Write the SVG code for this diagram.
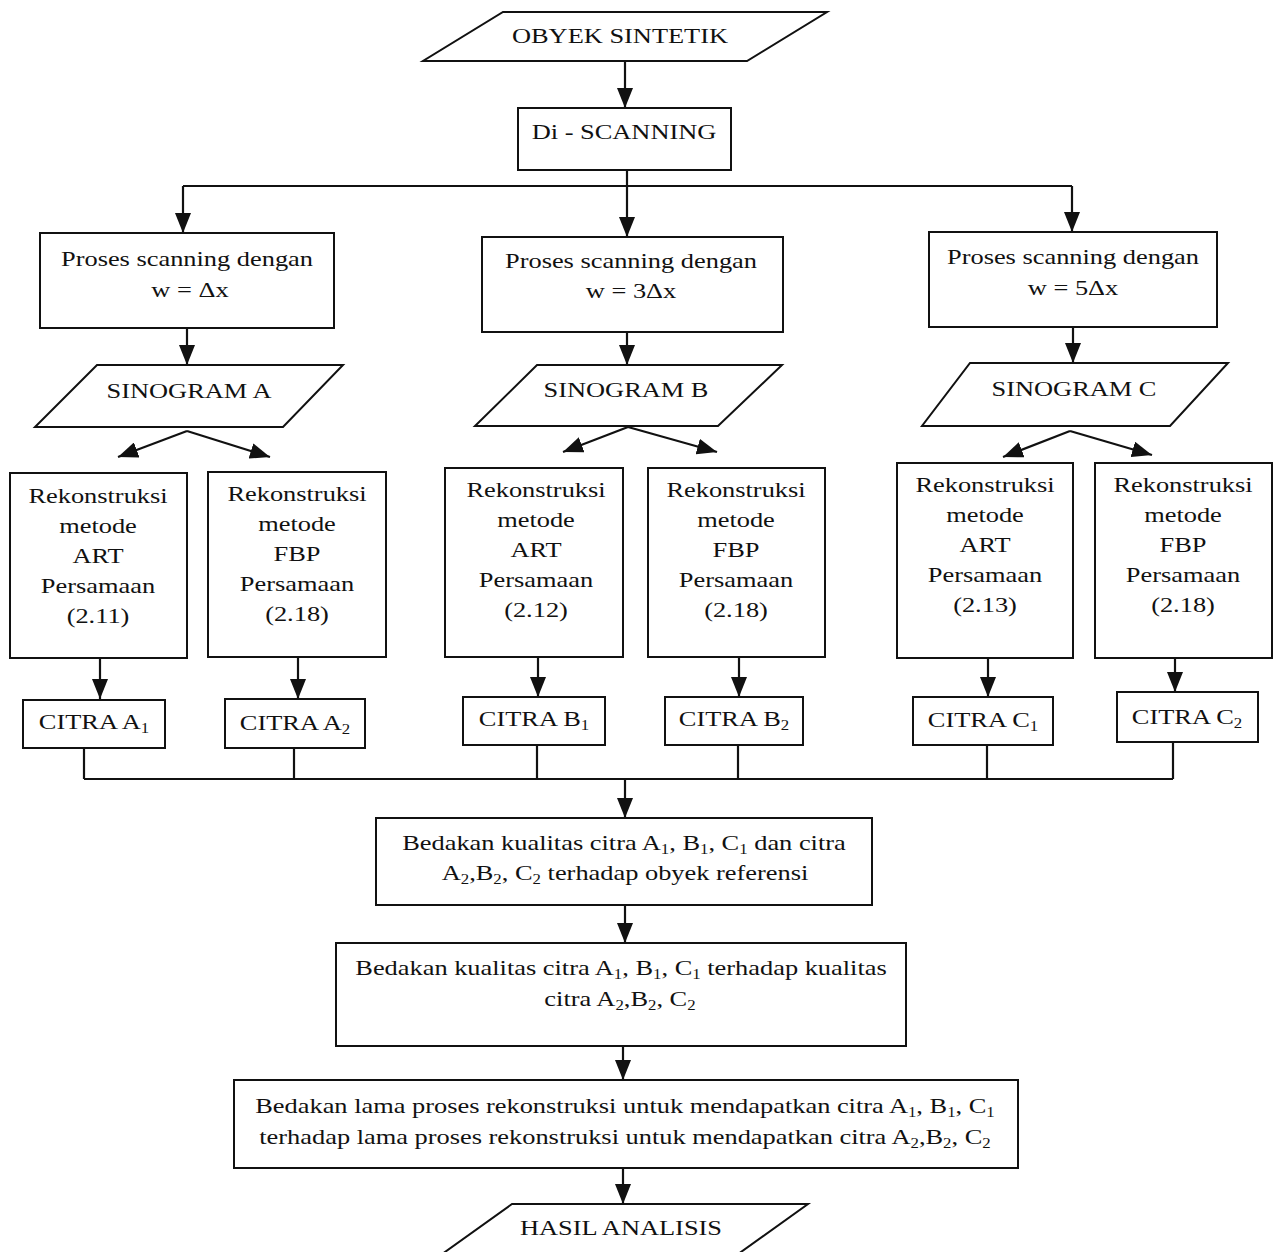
<svg xmlns="http://www.w3.org/2000/svg" width="1274" height="1252" viewBox="0 0 1274 1252">
<defs>
<style>
.t{font-family:"Liberation Serif","Times New Roman",serif;font-size:22px;text-anchor:middle;fill:#111}
.s{font-size:14px}
.b{fill:none;stroke:#111;stroke-width:2}
.c{fill:none;stroke:#111;stroke-width:2.2}
</style>
<marker id="ah" viewBox="0 0 20 16" refX="20" refY="8" markerWidth="20" markerHeight="16" markerUnits="userSpaceOnUse" orient="auto"><path d="M0,0 L20,8 L0,16 z" fill="#111"/></marker>
</defs>
<rect width="1274" height="1252" fill="#fff"/>

<g id="connectors">
<line class="c" x1="625" y1="61" x2="625" y2="108" marker-end="url(#ah)"/>
<line class="c" x1="627" y1="170" x2="627" y2="186"/>
<line class="c" x1="183" y1="186" x2="1072" y2="186"/>
<line class="c" x1="183" y1="186" x2="183" y2="233" marker-end="url(#ah)"/>
<line class="c" x1="627" y1="186" x2="627" y2="237" marker-end="url(#ah)"/>
<line class="c" x1="1072" y1="186" x2="1072" y2="232" marker-end="url(#ah)"/>
<line class="c" x1="187" y1="328" x2="187" y2="365" marker-end="url(#ah)"/>
<line class="c" x1="627" y1="332" x2="627" y2="365" marker-end="url(#ah)"/>
<line class="c" x1="1073" y1="327" x2="1073" y2="363" marker-end="url(#ah)"/>
<line class="c" x1="187" y1="431" x2="118" y2="457" marker-end="url(#ah)"/>
<line class="c" x1="187" y1="431" x2="270" y2="457" marker-end="url(#ah)"/>
<line class="c" x1="628" y1="427" x2="563" y2="452" marker-end="url(#ah)"/>
<line class="c" x1="628" y1="427" x2="717" y2="452" marker-end="url(#ah)"/>
<line class="c" x1="1070" y1="431" x2="1003" y2="457" marker-end="url(#ah)"/>
<line class="c" x1="1070" y1="431" x2="1152" y2="455" marker-end="url(#ah)"/>
<line class="c" x1="100" y1="658" x2="100" y2="699" marker-end="url(#ah)"/>
<line class="c" x1="298" y1="657" x2="298" y2="699" marker-end="url(#ah)"/>
<line class="c" x1="538" y1="657" x2="538" y2="697" marker-end="url(#ah)"/>
<line class="c" x1="739" y1="657" x2="739" y2="697" marker-end="url(#ah)"/>
<line class="c" x1="988" y1="658" x2="988" y2="697" marker-end="url(#ah)"/>
<line class="c" x1="1175" y1="658" x2="1175" y2="692" marker-end="url(#ah)"/>
<line class="c" x1="84" y1="748" x2="84" y2="779"/>
<line class="c" x1="294" y1="748" x2="294" y2="779"/>
<line class="c" x1="537" y1="745" x2="537" y2="779"/>
<line class="c" x1="738" y1="745" x2="738" y2="779"/>
<line class="c" x1="987" y1="745" x2="987" y2="779"/>
<line class="c" x1="1173" y1="742" x2="1173" y2="779"/>
<line class="c" x1="84" y1="779" x2="1173" y2="779"/>
<line class="c" x1="625" y1="779" x2="625" y2="818" marker-end="url(#ah)"/>
<line class="c" x1="625" y1="905" x2="625" y2="943" marker-end="url(#ah)"/>
<line class="c" x1="623" y1="1046" x2="623" y2="1080" marker-end="url(#ah)"/>
<line class="c" x1="623" y1="1168" x2="623" y2="1204" marker-end="url(#ah)"/>
</g>

<g id="obyek-sintetik">
<polygon class="b" points="503,12 827,12 747,61 423,61"/>
<text class="t" transform="translate(620,43) scale(1.2,1)">OBYEK SINTETIK</text>
</g>

<g id="di-scanning">
<rect class="b" x="518" y="108" width="213" height="62"/>
<text class="t" transform="translate(624,139) scale(1.2,1)">Di - SCANNING</text>
</g>

<g id="proses-a">
<rect class="b" x="40" y="233" width="294" height="95"/>
<text class="t" transform="translate(187,266) scale(1.2,1)">Proses scanning dengan</text>
<text class="t" transform="translate(190,297) scale(1.2,1)">w = Δx</text>
</g>
<g id="proses-b">
<rect class="b" x="482" y="237" width="301" height="95"/>
<text class="t" transform="translate(631,268) scale(1.2,1)">Proses scanning dengan</text>
<text class="t" transform="translate(631,298) scale(1.2,1)">w = 3Δx</text>
</g>
<g id="proses-c">
<rect class="b" x="929" y="232" width="288" height="95"/>
<text class="t" transform="translate(1073,264) scale(1.2,1)">Proses scanning dengan</text>
<text class="t" transform="translate(1073,295) scale(1.2,1)">w = 5Δx</text>
</g>

<g id="sinogram-a">
<polygon class="b" points="97,365 343,365 283,427 35,427"/>
<text class="t" transform="translate(189,398) scale(1.2,1)">SINOGRAM A</text>
</g>
<g id="sinogram-b">
<polygon class="b" points="537,365 782,365 718,426 475,426"/>
<text class="t" transform="translate(626,397) scale(1.2,1)">SINOGRAM B</text>
</g>
<g id="sinogram-c">
<polygon class="b" points="970,363 1228,363 1170,426 922,426"/>
<text class="t" transform="translate(1074,396) scale(1.2,1)">SINOGRAM C</text>
</g>

<g id="rekon-art-a">
<rect class="b" x="10" y="473" width="177" height="185"/>
<text class="t" transform="translate(98,503) scale(1.2,1)">Rekonstruksi</text>
<text class="t" transform="translate(98,533) scale(1.2,1)">metode</text>
<text class="t" transform="translate(98,563) scale(1.2,1)">ART</text>
<text class="t" transform="translate(98,593) scale(1.2,1)">Persamaan</text>
<text class="t" transform="translate(98,623) scale(1.2,1)">(2.11)</text>
</g>
<g id="rekon-fbp-a">
<rect class="b" x="208" y="472" width="178" height="185"/>
<text class="t" transform="translate(297,501) scale(1.2,1)">Rekonstruksi</text>
<text class="t" transform="translate(297,531) scale(1.2,1)">metode</text>
<text class="t" transform="translate(297,561) scale(1.2,1)">FBP</text>
<text class="t" transform="translate(297,591) scale(1.2,1)">Persamaan</text>
<text class="t" transform="translate(297,621) scale(1.2,1)">(2.18)</text>
</g>
<g id="rekon-art-b">
<rect class="b" x="445" y="468" width="178" height="189"/>
<text class="t" transform="translate(536,497) scale(1.2,1)">Rekonstruksi</text>
<text class="t" transform="translate(536,527) scale(1.2,1)">metode</text>
<text class="t" transform="translate(536,557) scale(1.2,1)">ART</text>
<text class="t" transform="translate(536,587) scale(1.2,1)">Persamaan</text>
<text class="t" transform="translate(536,617) scale(1.2,1)">(2.12)</text>
</g>
<g id="rekon-fbp-b">
<rect class="b" x="648" y="468" width="177" height="189"/>
<text class="t" transform="translate(736,497) scale(1.2,1)">Rekonstruksi</text>
<text class="t" transform="translate(736,527) scale(1.2,1)">metode</text>
<text class="t" transform="translate(736,557) scale(1.2,1)">FBP</text>
<text class="t" transform="translate(736,587) scale(1.2,1)">Persamaan</text>
<text class="t" transform="translate(736,617) scale(1.2,1)">(2.18)</text>
</g>
<g id="rekon-art-c">
<rect class="b" x="897" y="463" width="176" height="195"/>
<text class="t" transform="translate(985,492) scale(1.2,1)">Rekonstruksi</text>
<text class="t" transform="translate(985,522) scale(1.2,1)">metode</text>
<text class="t" transform="translate(985,552) scale(1.2,1)">ART</text>
<text class="t" transform="translate(985,582) scale(1.2,1)">Persamaan</text>
<text class="t" transform="translate(985,612) scale(1.2,1)">(2.13)</text>
</g>
<g id="rekon-fbp-c">
<rect class="b" x="1095" y="463" width="177" height="195"/>
<text class="t" transform="translate(1183,492) scale(1.2,1)">Rekonstruksi</text>
<text class="t" transform="translate(1183,522) scale(1.2,1)">metode</text>
<text class="t" transform="translate(1183,552) scale(1.2,1)">FBP</text>
<text class="t" transform="translate(1183,582) scale(1.2,1)">Persamaan</text>
<text class="t" transform="translate(1183,612) scale(1.2,1)">(2.18)</text>
</g>

<g id="citra-a1">
<rect class="b" x="23" y="700" width="142" height="48"/>
<text class="t" transform="translate(94,729) scale(1.2,1)">CITRA A<tspan class="s" dy="4">1</tspan></text>
</g>
<g id="citra-a2">
<rect class="b" x="225" y="699" width="140" height="49"/>
<text class="t" transform="translate(295,730) scale(1.2,1)">CITRA A<tspan class="s" dy="4">2</tspan></text>
</g>
<g id="citra-b1">
<rect class="b" x="463" y="697" width="142" height="48"/>
<text class="t" transform="translate(534,726) scale(1.2,1)">CITRA B<tspan class="s" dy="4">1</tspan></text>
</g>
<g id="citra-b2">
<rect class="b" x="665" y="697" width="138" height="48"/>
<text class="t" transform="translate(734,726) scale(1.2,1)">CITRA B<tspan class="s" dy="4">2</tspan></text>
</g>
<g id="citra-c1">
<rect class="b" x="913" y="697" width="140" height="48"/>
<text class="t" transform="translate(983,727) scale(1.2,1)">CITRA C<tspan class="s" dy="4">1</tspan></text>
</g>
<g id="citra-c2">
<rect class="b" x="1117" y="692" width="141" height="50"/>
<text class="t" transform="translate(1187,724) scale(1.2,1)">CITRA C<tspan class="s" dy="4">2</tspan></text>
</g>

<g id="bedakan-referensi">
<rect class="b" x="376" y="818" width="496" height="87"/>
<text class="t" transform="translate(624,850) scale(1.2,1)">Bedakan kualitas citra A<tspan class="s" dy="4">1</tspan><tspan dy="-4">, B</tspan><tspan class="s" dy="4">1</tspan><tspan dy="-4">, C</tspan><tspan class="s" dy="4">1</tspan><tspan dy="-4"> dan citra</tspan></text>
<text class="t" transform="translate(625,880) scale(1.2,1)">A<tspan class="s" dy="4">2</tspan><tspan dy="-4">,B</tspan><tspan class="s" dy="4">2</tspan><tspan dy="-4">, C</tspan><tspan class="s" dy="4">2</tspan><tspan dy="-4"> terhadap obyek referensi</tspan></text>
</g>

<g id="bedakan-kualitas">
<rect class="b" x="336" y="943" width="570" height="103"/>
<text class="t" transform="translate(621,975) scale(1.2,1)">Bedakan kualitas citra A<tspan class="s" dy="4">1</tspan><tspan dy="-4">, B</tspan><tspan class="s" dy="4">1</tspan><tspan dy="-4">, C</tspan><tspan class="s" dy="4">1</tspan><tspan dy="-4"> terhadap kualitas</tspan></text>
<text class="t" transform="translate(620,1006) scale(1.2,1)">citra A<tspan class="s" dy="4">2</tspan><tspan dy="-4">,B</tspan><tspan class="s" dy="4">2</tspan><tspan dy="-4">, C</tspan><tspan class="s" dy="4">2</tspan></text>
</g>

<g id="bedakan-lama">
<rect class="b" x="234" y="1080" width="784" height="88"/>
<text class="t" transform="translate(625,1113) scale(1.2,1)">Bedakan lama proses rekonstruksi untuk mendapatkan citra A<tspan class="s" dy="4">1</tspan><tspan dy="-4">, B</tspan><tspan class="s" dy="4">1</tspan><tspan dy="-4">, C</tspan><tspan class="s" dy="4">1</tspan></text>
<text class="t" transform="translate(625,1144) scale(1.2,1)">terhadap lama proses rekonstruksi untuk mendapatkan citra A<tspan class="s" dy="4">2</tspan><tspan dy="-4">,B</tspan><tspan class="s" dy="4">2</tspan><tspan dy="-4">, C</tspan><tspan class="s" dy="4">2</tspan></text>
</g>

<g id="hasil-analisis">
<polygon class="b" points="512,1204 808,1204 727,1262 431,1262"/>
<text class="t" transform="translate(621,1235) scale(1.2,1)">HASIL ANALISIS</text>
</g>
</svg>
